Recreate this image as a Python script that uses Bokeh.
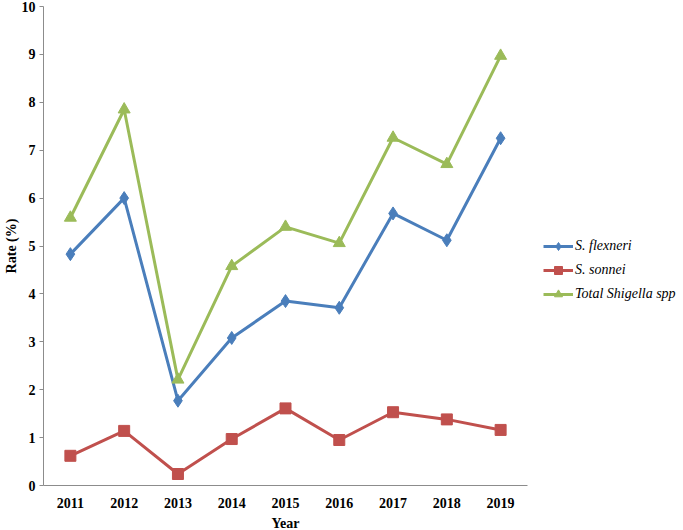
from bokeh.plotting import figure
from bokeh.models import FactorRange, Range1d, Legend, FixedTicker
from bokeh.embed import file_html
from bokeh.resources import INLINE

years = ["2011", "2012", "2013", "2014", "2015", "2016", "2017", "2018", "2019"]
flexneri = [4.83, 6.00, 1.77, 3.08, 3.85, 3.71, 5.68, 5.12, 7.25]
sonnei = [0.62, 1.14, 0.24, 0.97, 1.61, 0.95, 1.53, 1.38, 1.16]
total = [5.59, 7.85, 2.21, 4.58, 5.40, 5.06, 7.26, 6.71, 8.97]
yticks = [0, 1, 2, 3, 4, 5, 6, 7, 8, 9, 10]

BLUE = "#4a7ebb"
RED = "#c0504d"
GREEN = "#9bbb59"
FONT = "Liberation Serif"

p = figure(frame_width=484, frame_height=479, x_range=FactorRange(*years, range_padding=0),
           y_range=Range1d(0, 10), output_backend="svg", toolbar_location=None,
           min_border_left=0, min_border_right=0, min_border_top=6, min_border_bottom=0)
p.outline_line_color = None
p.xgrid.visible = False
p.ygrid.visible = False

r1l = p.line(years, flexneri, line_color=BLUE, line_width=3)
r1s = p.scatter(years, flexneri, marker="diamond", size=13, fill_color=BLUE, line_color=BLUE)
r2l = p.line(years, sonnei, line_color=RED, line_width=3)
r2s = p.scatter(years, sonnei, marker="square", size=11, fill_color=RED, line_color=RED)
r3l = p.line(years, total, line_color=GREEN, line_width=3)
r3s = p.scatter(years, total, marker="triangle", size=12, fill_color=GREEN, line_color=GREEN)

for ax in (p.xaxis[0], p.yaxis[0]):
    ax.axis_line_color = "#8c8c8c"
    ax.major_label_text_font = FONT
    ax.major_label_text_font_style = "bold"
    ax.major_label_text_font_size = "14px"
    ax.major_label_text_color = "black"
    ax.axis_label_text_font = FONT
    ax.axis_label_text_font_style = "bold"
    ax.axis_label_text_font_size = "14px"
    ax.axis_label_text_color = "black"
    ax.minor_tick_line_color = None

p.yaxis[0].ticker = FixedTicker(ticks=yticks)
p.yaxis[0].major_tick_line_color = "#8c8c8c"
p.yaxis[0].major_tick_out = 4
p.yaxis[0].major_tick_in = 0
p.yaxis[0].major_label_standoff = 4
p.yaxis[0].axis_label = "Rate (%)"
p.yaxis[0].axis_label_standoff = 0

p.xaxis[0].major_tick_line_color = None
p.xaxis[0].major_label_standoff = 6
p.xaxis[0].axis_label = "Year"
p.xaxis[0].axis_label_standoff = 5

legend = Legend(items=[("S. flexneri", [r1l, r1s]), ("S. sonnei", [r2l, r2s]),
                       ("Total Shigella spp", [r3l, r3s])],
                location=(16, 181))
legend.label_text_font = FONT
legend.label_text_font_style = "italic"
legend.label_text_font_size = "14px"
legend.label_text_color = "black"
legend.glyph_width = 30
legend.glyph_height = 20
legend.label_height = 20
legend.spacing = 4
legend.label_standoff = 2
legend.padding = 0
legend.margin = 7
legend.border_line_color = None
legend.background_fill_alpha = 0
p.add_layout(legend, "right")

open("out.html", "w").write(file_html(p, INLINE))
